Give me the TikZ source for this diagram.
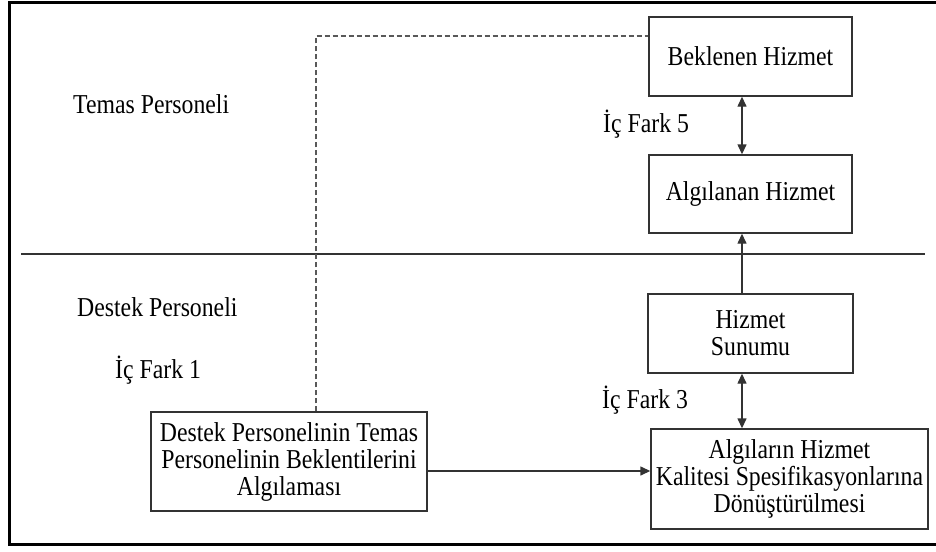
\documentclass[tikz,border=0pt]{standalone}
\usepackage{fontspec}
\setmainfont[FakeStretch=0.87]{Liberation Serif}
\usetikzlibrary{arrows.meta}
\tikzset{
  boxnode/.style={draw=black!80, line width=1.4pt, inner sep=0pt, align=center,
    font=\fontsize{27.3}{27}\selectfont},
  lbl/.style={anchor=base west, inner sep=0pt, font=\fontsize{27.3}{27}\selectfont},
  conn/.style={draw=black!80, line width=1.4pt},
  tip/.style={-{Triangle[length=10pt,width=9pt]}},
  dtip/.style={{Triangle[length=10pt,width=9pt]}-{Triangle[length=10pt,width=9pt]}},
  dashline/.style={draw=black!65, line width=1.4pt, dash pattern=on 5pt off 3pt}
}
\begin{document}
\begin{tikzpicture}[x=1pt,y=-1pt]
\useasboundingbox (0,0) rectangle (936,551);
% frame (right side cropped)
\draw[line width=3pt] (936,3) -- (9,3) -- (9,544) -- (936,544);
% separator line
\draw[draw=black!80, line width=1.4pt] (21,254) -- (925,254);
% boxes
\node[boxnode, minimum width=203pt, minimum height=79pt] (bek) at (750.5,56.5) {Beklenen Hizmet};
\node[boxnode, minimum width=203pt, minimum height=78pt] (alg) at (750.5,194) {Algılanan Hizmet};
\node[boxnode, minimum width=205pt, minimum height=79pt] (sun) at (750.5,333.5) {Hizmet\\Sunumu};
\node[boxnode, minimum width=277pt, minimum height=100pt] (spec) at (789.5,479) {Algıların Hizmet\\Kalitesi Spesifikasyonlarına\\Dönüştürülmesi};
\node[boxnode, minimum width=276pt, minimum height=99pt] (des) at (289,461.5) {Destek Personelinin Temas\\Personelinin Beklentilerini\\Algılaması};
% labels
\node[lbl] (tp) at (73,113) {Temas Personeli};
\node[lbl] (dp) at (77,316) {Destek Personeli};
\node[lbl] (if1) at (115,378) {İç Fark 1};
\node[lbl] (if5) at (603,132) {İç Fark 5};
\node[lbl] (if3) at (602,408) {İç Fark 3};
% connectors
\draw[conn, dtip] (bek.south -| 742,0) -- (alg.north -| 742,0);
\draw[conn, tip] (sun.north -| 742,0) -- (alg.south -| 742,0);
\draw[conn, dtip] (sun.south -| 742,0) -- (spec.north -| 742,0);
\draw[conn, tip] (des.east |- 0,471) -- (spec.west |- 0,471);
\coordinate (dc) at (316,36);
\draw[dashline] (des.north -| dc) -- (dc) -- (bek.west |- dc);
\end{tikzpicture}
\end{document}
